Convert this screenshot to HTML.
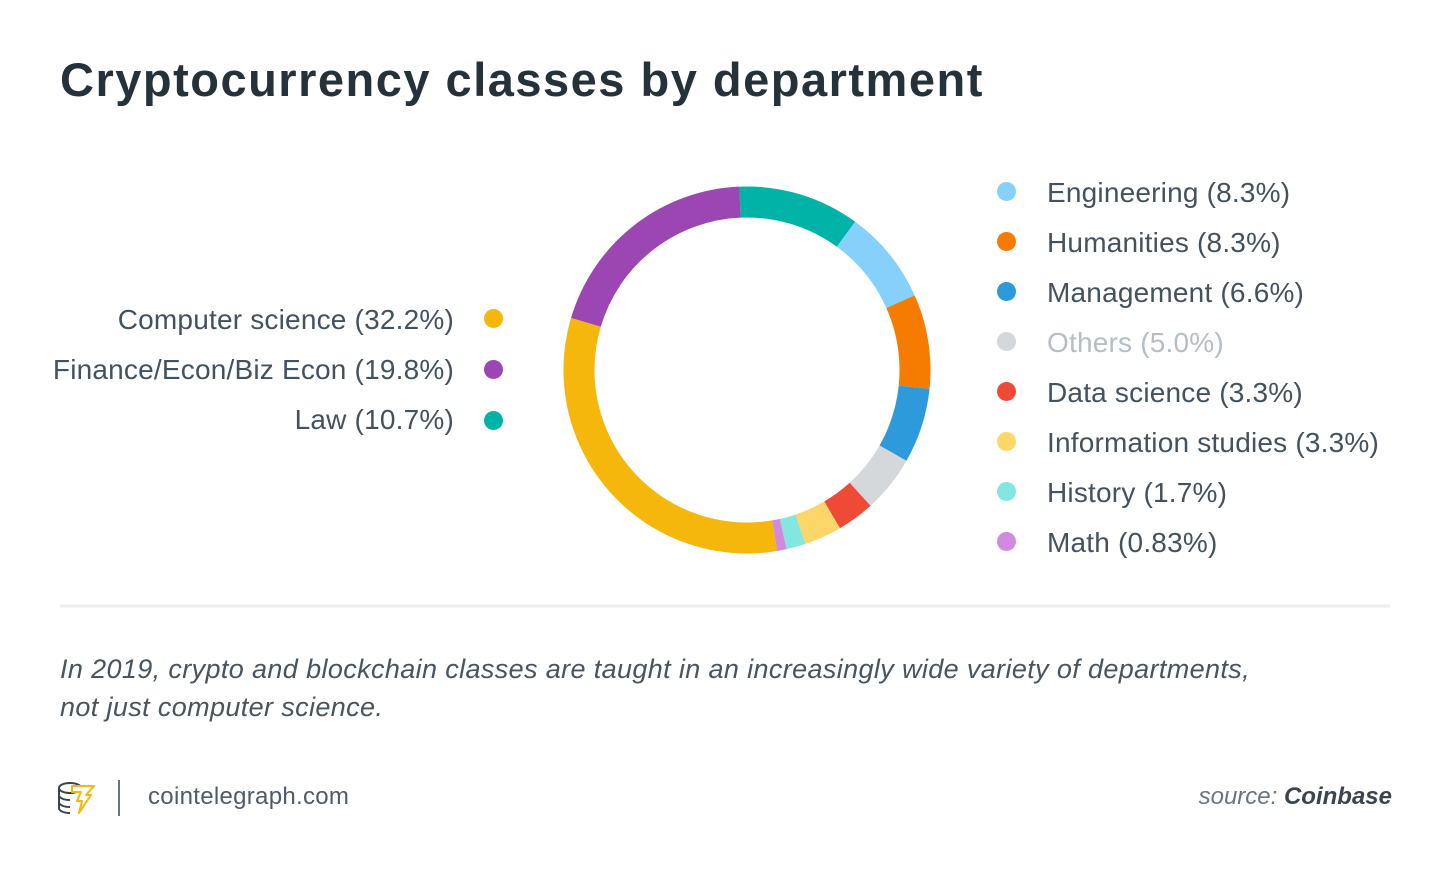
<!DOCTYPE html>
<html><head><meta charset="utf-8"><style>
body{margin:0;width:1450px;height:878px;background:#fff;font-family:"Liberation Sans",sans-serif;color:#2f3b44;position:relative;overflow:hidden}
.a{position:absolute;white-space:nowrap}
.t{left:60px;top:52px;font-size:47px;font-weight:bold;color:#26323a;letter-spacing:1.5px}
.l{font-size:28px;color:#44525d;letter-spacing:0.2px}
.d{position:absolute;width:19px;height:19px;border-radius:50%}
</style></head><body>
<div class="a t">Cryptocurrency classes by department</div>

<div class="a l" style="right:996px;top:304px">Computer science (32.2%)</div>
<div class="a l" style="right:996px;top:354px">Finance/Econ/Biz Econ (19.8%)</div>
<div class="a l" style="right:996px;top:404px">Law (10.7%)</div>
<div class="d" style="left:484px;top:309px;background:#f5b70c"></div>
<div class="d" style="left:484px;top:360px;background:#9c46b4"></div>
<div class="d" style="left:484px;top:411px;background:#00b3a6"></div>

<div class="d" style="left:997px;top:182px;background:#85d1fb"></div>
<div class="d" style="left:997px;top:232px;background:#f57c00"></div>
<div class="d" style="left:997px;top:282px;background:#2d9bdb"></div>
<div class="d" style="left:997px;top:332px;background:#d4d8da"></div>
<div class="d" style="left:997px;top:382px;background:#ef4a36"></div>
<div class="d" style="left:997px;top:432px;background:#fdd66a"></div>
<div class="d" style="left:997px;top:482px;background:#83e6e0"></div>
<div class="d" style="left:997px;top:532px;background:#d28ae0"></div>
<div class="a l" style="left:1047px;top:177px">Engineering (8.3%)</div>
<div class="a l" style="left:1047px;top:227px">Humanities (8.3%)</div>
<div class="a l" style="left:1047px;top:277px">Management (6.6%)</div>
<div class="a l" style="left:1047px;top:327px;color:#b5bec4">Others (5.0%)</div>
<div class="a l" style="left:1047px;top:377px">Data science (3.3%)</div>
<div class="a l" style="left:1047px;top:427px">Information studies (3.3%)</div>
<div class="a l" style="left:1047px;top:477px">History (1.7%)</div>
<div class="a l" style="left:1047px;top:527px">Math (0.83%)</div>

<svg class="a" style="left:0;top:0" width="1450" height="878">
<g transform="translate(747,370) rotate(-92.4)" fill="none" stroke-width="31">
<circle r="168" stroke="#00b3a6" stroke-dasharray="112.9 2000" stroke-dashoffset="0"/>
<circle r="168" stroke="#85d1fb" stroke-dasharray="87.6 2000" stroke-dashoffset="-112.9"/>
<circle r="168" stroke="#f57c00" stroke-dasharray="87.6 2000" stroke-dashoffset="-200.5"/>
<circle r="168" stroke="#2d9bdb" stroke-dasharray="69.7 2000" stroke-dashoffset="-288.1"/>
<circle r="168" stroke="#d4d8da" stroke-dasharray="52.8 2000" stroke-dashoffset="-357.8"/>
<circle r="168" stroke="#ef4a36" stroke-dasharray="34.8 2000" stroke-dashoffset="-410.6"/>
<circle r="168" stroke="#fdd66a" stroke-dasharray="34.8 2000" stroke-dashoffset="-445.4"/>
<circle r="168" stroke="#83e6e0" stroke-dasharray="17.9 2000" stroke-dashoffset="-480.2"/>
<circle r="168" stroke="#d28ae0" stroke-dasharray="8.8 2000" stroke-dashoffset="-498.1"/>
<circle r="168" stroke="#f5b70c" stroke-dasharray="339.9 2000" stroke-dashoffset="-506.9"/>
<circle r="168" stroke="#9c46b4" stroke-dasharray="209 2000" stroke-dashoffset="-846.8"/>
</g>
<line x1="60" y1="606" x2="1390" y2="606" stroke="#eceeef" stroke-width="3"/>
<line x1="119" y1="780" x2="119" y2="816" stroke="#6b747a" stroke-width="2"/>
<g fill="none" stroke="#3b444a" stroke-width="2">
<ellipse cx="70" cy="788" rx="11" ry="5"/>
<path d="M59 788v20c0 3 5 5 11 5M59 795c0 3 5 5 11 5M59 802c0 3 5 5 11 5"/>
</g>
<path d="M72 786h22l-8 9h5l-12 18 3-12h-5l4-9h-9z" fill="#fff" stroke="#f5b70c" stroke-width="2" stroke-linejoin="round"/>
</svg>

<div class="a" style="left:60px;top:650px;font-size:27px;font-style:italic;color:#48545e;line-height:38px;letter-spacing:0.37px">In 2019, crypto and blockchain classes are taught in an increasingly wide variety of departments,<br>not just computer science.</div>
<div class="a" style="left:148px;top:783px;font-size:24px;color:#4f5b65;letter-spacing:0.3px">cointelegraph.com</div>
<div class="a" style="right:58px;top:783px;font-size:24px;font-style:italic;color:#6b757c">source: <b style="color:#3a454e">Coinbase</b></div>
</body></html>
